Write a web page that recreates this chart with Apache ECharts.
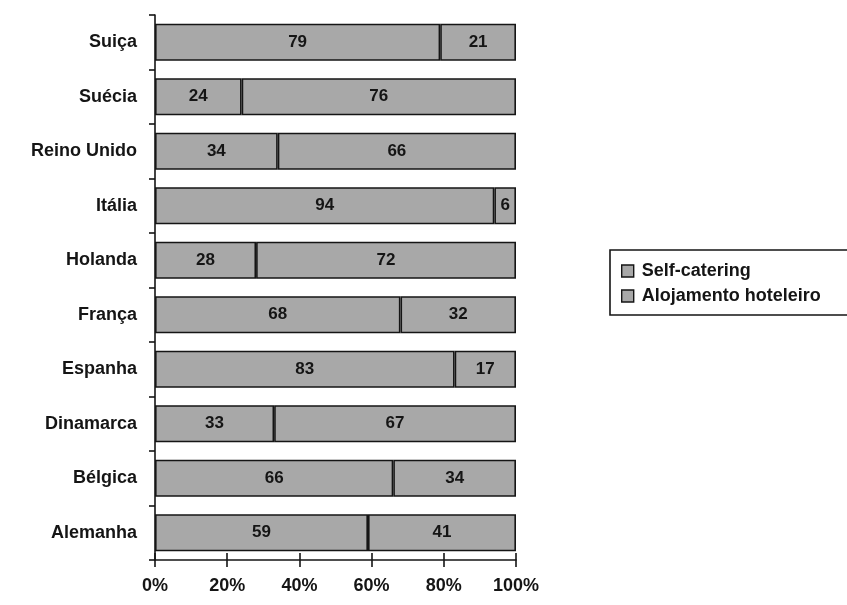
<!DOCTYPE html>
<html>
<head>
<meta charset="utf-8">
<script src="https://cdn.jsdelivr.net/npm/echarts@6/dist/echarts.min.js"></script>
<style>
  html, body { margin: 0; padding: 0; background: #ffffff; }
  #chart { width: 847px; height: 605px; }
</style>
</head>
<body>
<div id="chart"></div>
<script>
// Countries, bottom to top
const countries = ['Alemanha', 'Bélgica', 'Dinamarca', 'Espanha', 'França', 'Holanda', 'Itália', 'Reino Unido', 'Suécia', 'Suiça'];
// Share of each accommodation type (%)
const selfCatering = [59, 66, 33, 83, 68, 28, 94, 34, 24, 79];
const hotel = [41, 34, 67, 17, 32, 72, 6, 66, 76, 21];
const xTicks = ['0%', '20%', '40%', '60%', '80%', '100%'];

const FONT = '"Liberation Sans", Arial, sans-serif';
const barColor = '#a8a8a8';
const ink = '#151515';

const chart = echarts.init(document.getElementById('chart'));

function barSeries(name, data) {
  return {
    name: name,
    type: 'bar',
    stack: 'total',
    barCategoryGap: '32%',
    data: data,
    itemStyle: { color: barColor, borderColor: ink, borderWidth: 1.6 },
    label: {
      show: true,
      position: 'inside',
      color: ink,
      fontFamily: FONT,
      fontWeight: 'bold',
      fontSize: 17
    }
  };
}

chart.setOption({
  backgroundColor: '#ffffff',
  animation: false,
  grid: { left: 155, right: 331, top: 15, bottom: 45 },
  legend: {
    orient: 'vertical',
    left: 610,
    top: 250,
    itemWidth: 12,
    itemHeight: 12,
    itemGap: 7,
    icon: 'rect',
    data: ['Self-catering', 'Alojamento hoteleiro'],
    itemStyle: { borderColor: ink, borderWidth: 1.4 },
    textStyle: { fontFamily: FONT, fontWeight: 'bold', fontSize: 18, color: ink, padding: [0, 0, 0, 3] },
    backgroundColor: '#fff',
    borderColor: ink,
    borderWidth: 1.6,
    padding: [12, 60, 10, 11]
  },
  xAxis: [
    {
      type: 'value',
      min: 0,
      max: 100,
      interval: 20,
      axisLine: { show: true, lineStyle: { color: ink, width: 1.6 } },
      axisTick: { show: true, length: 7, lineStyle: { color: ink, width: 1.6 } },
      splitLine: { show: false },
      axisLabel: {
        margin: 17,
        fontFamily: FONT,
        fontWeight: 'bold',
        fontSize: 18,
        color: ink,
        formatter: function (v) { return xTicks[Math.round(v / 20)]; }
      }
    },
    {
      // inner half of the crossing tick marks
      type: 'value',
      position: 'bottom',
      min: 0,
      max: 100,
      interval: 20,
      axisLine: { show: false },
      axisTick: { show: true, inside: true, length: 7, lineStyle: { color: ink, width: 1.6 } },
      splitLine: { show: false },
      axisLabel: { show: false }
    }
  ],
  yAxis: {
    type: 'category',
    data: countries,
    axisLine: { show: true, lineStyle: { color: ink, width: 1.6 } },
    axisTick: { show: true, length: 6, lineStyle: { color: ink, width: 1.6 } },
    axisLabel: {
      margin: 18,
      fontFamily: FONT,
      fontWeight: 'bold',
      fontSize: 18,
      color: ink
    }
  },
  series: [
    barSeries('Self-catering', selfCatering),
    barSeries('Alojamento hoteleiro', hotel)
  ]
});
</script>
</body>
</html>
